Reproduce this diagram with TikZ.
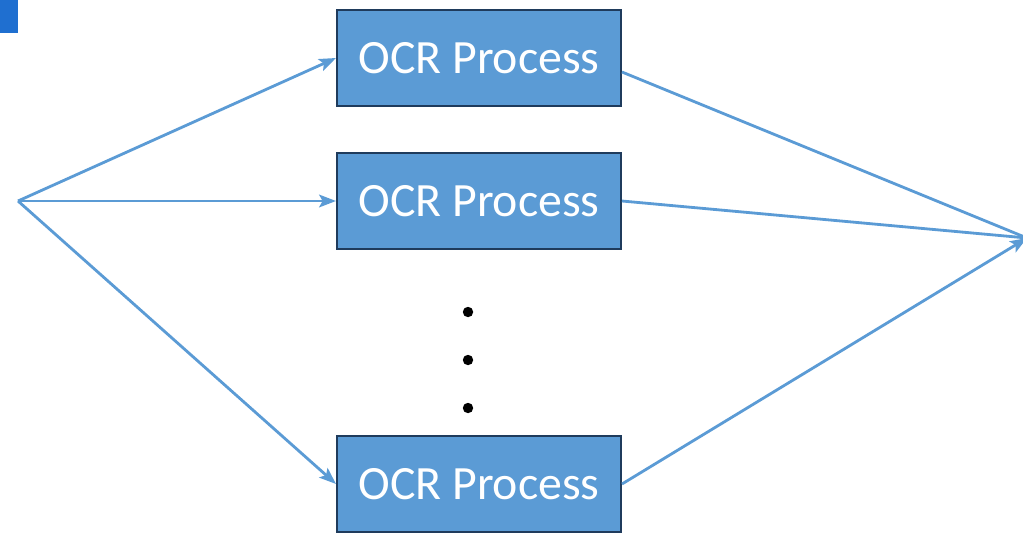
\documentclass[tikz,border=0pt]{standalone}
\usepackage{fontspec}
\setmainfont{Carlito}
\usetikzlibrary{arrows.meta,positioning,calc}
\definecolor{ocrfill}{HTML}{5B9BD5}
\definecolor{ocrdraw}{HTML}{1F3B5C}
\definecolor{tabblue}{HTML}{1F6FD0}
\begin{document}
\begin{tikzpicture}[x=0.025cm,y=-0.025cm,>={Stealth[length=12pt,width=9pt,inset=2.5pt]},
  ocrbox/.style={draw=ocrdraw,line width=1.4pt,fill=ocrfill,text=white,
    minimum width=284*0.025cm,minimum height=96*0.025cm,inner sep=0pt,
    font=\fontsize{34}{40}\selectfont},
  link/.style={draw=ocrfill,line width=2pt}]
\useasboundingbox (0,0) rectangle (1023,533);
%% corner tab
\fill[tabblue] (0,0) rectangle (18,33);
\coordinate (src) at (18,201);
\coordinate (dst) at (1027,238);
%%% OCR boxes:
\node[ocrbox] (ocra) at (479,58) {\raisebox{-2pt}{OCR Process}};
\node[ocrbox] (ocrb) at (479,201) {\raisebox{-2pt}{OCR Process}};
\node[ocrbox] (ocrc) at (479,484) {\raisebox{-2pt}{OCR Process}};
%% dots
\foreach \y in {312,360,408} \fill (468,\y) circle[radius=0.13cm];
%% fan out
\draw[link,->] (src) -- (ocra.west);
\draw[link,->] (src) -- (ocrb.west);
\draw[link,->] (src) -- (ocrc.west);
%% fan in
\draw[link] ($(ocra.east)+(0,14)$) -- (dst);
\draw[link] (ocrb.east) -- (dst);
\draw[link,->] (ocrc.east) -- (dst);
\end{tikzpicture}
\end{document}
